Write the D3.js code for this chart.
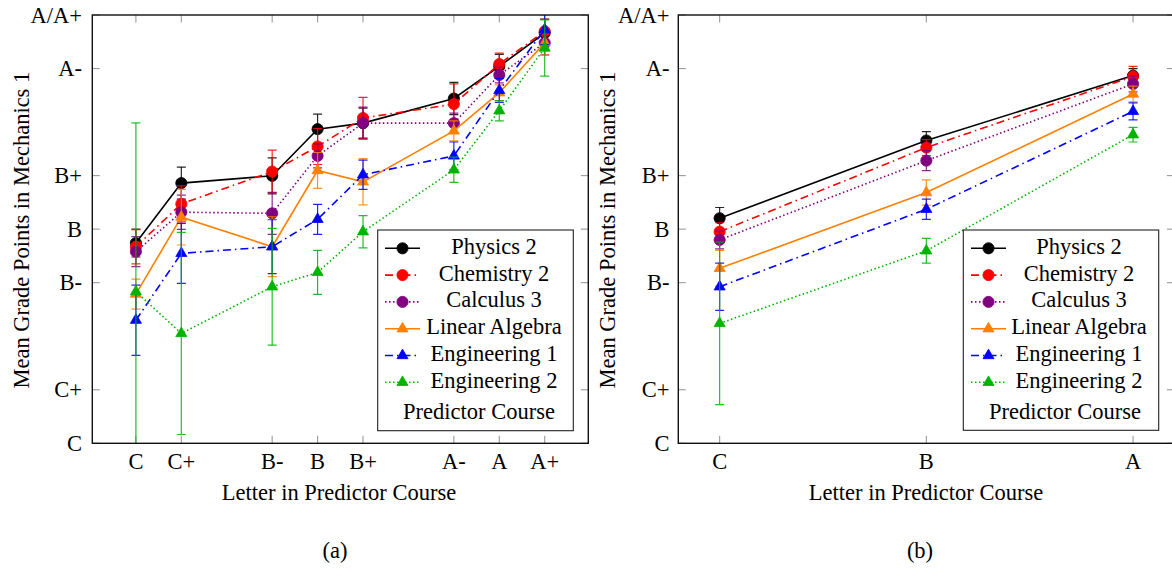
<!DOCTYPE html>
<html>
<head>
<meta charset="utf-8">
<script src="https://cdn.jsdelivr.net/npm/d3@7"></script>
<style>
  html, body { margin: 0; padding: 0; background: #fff; }
  svg { display: block; }
</style>
</head>
<body>
<svg id="chart" width="1172" height="569"></svg>
<script>
// ---------- data ----------
const gradeTicks = [2.0, 2.25, 2.75, 3.0, 3.25, 3.75, 4.0];
const gradeLabels = ["C", "C+", "B-", "B", "B+", "A-", "A/A+"];

const catsA = ["C", "C+", "B-", "B", "B+", "A-", "A", "A+"];
const catsAValues = [2.0, 2.25, 2.75, 3.0, 3.25, 3.75, 4.0, 4.25];
const catsB = ["C", "B", "A"];
const catsBValues = [2.0, 3.0, 4.0];

const seriesNames = ["Physics 2", "Chemistry 2", "Calculus 3", "Linear Algebra", "Engineering 1", "Engineering 2"];
const seriesColors = ["#000000", "#ff0000", "#800080", "#ff8000", "#0000ff", "#00b300"];
const seriesDash = [null, "8,4,1.5,4", "1.5,2.5", null, "8,4,1.5,4", "1.5,2.5"];
const seriesMarker = ["circle", "circle", "circle", "triangle", "triangle", "triangle"];

// panel (a): mean grade points per predictor letter
const physicsA     = [2.935, 3.215, 3.249, 3.467, 3.495, 3.610, 3.760, 3.916];
const physicsAErr  = [0.065, 0.075, 0.084, 0.070, 0.070, 0.075, 0.056, 0.065];
const chemistryA   = [2.918, 3.118, 3.269, 3.386, 3.519, 3.584, 3.771, 3.924];
const chemistryAErr= [0.080, 0.084, 0.100, 0.084, 0.096, 0.094, 0.051, 0.056];
const calculusA    = [2.895, 3.079, 3.074, 3.342, 3.495, 3.495, 3.720, 3.870];
const calculusAErr = [0.070, 0.080, 0.098, 0.056, 0.075, 0.047, 0.037, 0.056];
const linearA      = [2.697, 3.056, 2.918, 3.274, 3.221, 3.459, 3.637, 3.870];
const linearAErr   = [0.070, 0.130, 0.140, 0.084, 0.108, 0.047, 0.037, 0.056];
const eng1A        = [2.575, 2.887, 2.918, 3.046, 3.254, 3.342, 3.648, 3.932];
const eng1AErr     = [0.164, 0.140, 0.126, 0.070, 0.068, 0.065, 0.056, 0.070];
const eng2A        = [2.708, 2.513, 2.731, 2.798, 2.988, 3.277, 3.553, 3.846];
const eng2AErr     = [0.788, 0.472, 0.273, 0.103, 0.075, 0.059, 0.047, 0.131];

// panel (b)
const physicsB     = [3.051, 3.414, 3.717];
const physicsBErr  = [0.050, 0.041, 0.033];
const chemistryB   = [2.988, 3.381, 3.713];
const chemistryBErr= [0.042, 0.037, 0.047];
const calculusB    = [2.950, 3.320, 3.678];
const calculusBErr = [0.042, 0.047, 0.037];
const linearB      = [2.817, 3.171, 3.631];
const linearBErr   = [0.084, 0.059, 0.037];
const eng1B        = [2.731, 3.093, 3.550];
const eng1BErr     = [0.110, 0.047, 0.040];
const eng2B        = [2.560, 2.899, 3.441];
const eng2BErr     = [0.379, 0.058, 0.034];

const xTitle = "Letter in Predictor Course";
const yTitle = "Mean Grade Points in Mechanics 1";
const legendExtra = "Predictor Course";

// ---------- drawing ----------
const svg = d3.select("#chart");
const FS = 22.5;
const FONT = "'Liberation Serif', Tinos, 'Times New Roman', 'DejaVu Serif', serif";

function txt(g, x, y, s, anchor) {
  return g.append("text").attr("x", x).attr("y", y).attr("text-anchor", anchor || "middle")
    .attr("font-family", FONT).attr("font-size", FS).attr("fill", "#000").text(s);
}

function triPath(r) {
  const h = r * Math.sqrt(3) / 2;
  return `M0,${-r}L${h},${r/2}L${-h},${r/2}Z`;
}
function drawMarker(g, type, color, x, y) {
  if (type === "circle") {
    g.append("circle").attr("cx", x).attr("cy", y).attr("r", 5.6)
      .attr("fill", color).attr("stroke", color).attr("stroke-width", 0.8);
  } else {
    g.append("path").attr("d", triPath(6.4)).attr("transform", `translate(${x},${y})`)
      .attr("fill", color).attr("stroke", color).attr("stroke-width", 0.8);
  }
}

function drawPanel(cfg) {
  const { id, left, right, top, bottom, xDomain, cats, catVals, series, caption, legend, yLabelX, yTickX } = cfg;
  const x = d3.scaleLinear().domain(xDomain).range([left, right]);
  const y = d3.scaleLinear().domain([2, 4]).range([bottom, top]);
  const g = svg.append("g");

  const clipId = "clip-" + id;
  svg.append("clipPath").attr("id", clipId).append("rect")
    .attr("x", left).attr("y", top).attr("width", right - left).attr("height", bottom - top);

  // ticks (inside, mirrored)
  const tl = 7.5;
  const tickG = g.append("g").attr("stroke", "#9a9a9a").attr("stroke-width", 1.1);
  catVals.forEach(v => {
    tickG.append("line").attr("x1", x(v)).attr("x2", x(v)).attr("y1", bottom).attr("y2", bottom - tl);
    tickG.append("line").attr("x1", x(v)).attr("x2", x(v)).attr("y1", top).attr("y2", top + tl);
  });
  gradeTicks.forEach(v => {
    tickG.append("line").attr("x1", left).attr("x2", left + tl).attr("y1", y(v)).attr("y2", y(v));
    tickG.append("line").attr("x1", right).attr("x2", right - tl).attr("y1", y(v)).attr("y2", y(v));
  });

  // series
  const plotG = g.append("g").attr("clip-path", `url(#${clipId})`);
  series.forEach((s, i) => {
    const color = seriesColors[i];
    const pts = catVals.map((cv, k) => ({ x: cv, y: s.vals[k], e: s.err[k] }));
    const sg = plotG.append("g");
    pts.forEach(p => {
      const px = x(p.x), y1 = y(p.y - p.e), y2 = y(p.y + p.e);
      sg.append("line").attr("x1", px).attr("x2", px).attr("y1", y1).attr("y2", y2)
        .attr("stroke", color).attr("stroke-width", 1.2).attr("stroke-opacity", 0.85);
      [y1, y2].forEach(yy => sg.append("line").attr("x1", px - 4.5).attr("x2", px + 4.5)
        .attr("y1", yy).attr("y2", yy).attr("stroke", color).attr("stroke-width", 1.2).attr("stroke-opacity", 0.85));
    });
    const line = d3.line().x(d => x(d.x)).y(d => y(d.y));
    sg.append("path").attr("d", line(pts)).attr("fill", "none").attr("stroke", color)
      .attr("stroke-width", 1.6).attr("stroke-dasharray", seriesDash[i]);
    pts.forEach(p => drawMarker(sg, seriesMarker[i], color, x(p.x), y(p.y)));
  });

  // frame
  g.append("rect").attr("x", left).attr("y", top).attr("width", right - left).attr("height", bottom - top)
    .attr("fill", "none").attr("stroke", "#111").attr("stroke-width", 1.4);

  // tick labels
  cats.forEach((c, k) => txt(g, x(catVals[k]), bottom + 26, c));
  gradeTicks.forEach((v, k) => txt(g, yTickX, y(v) + 7.5, gradeLabels[k], "end"));

  // axis titles
  txt(g, cfg.xTitleX, bottom + 57, xTitle);
  g.append("text").attr("transform", `translate(${yLabelX},${(top + bottom) / 2 + 1}) rotate(-90)`)
    .attr("text-anchor", "middle").attr("font-family", FONT).attr("font-size", FS).attr("fill", "#000").text(yTitle);

  // caption
  txt(g, cfg.captionX, 558, caption);

  // legend
  const L = legend;
  const lg = g.append("g");
  lg.append("rect").attr("x", L.x0).attr("y", L.y0).attr("width", L.x1 - L.x0).attr("height", L.y1 - L.y0)
    .attr("fill", "#fff").attr("stroke", "#222").attr("stroke-width", 1.1);
  const rowH = 26.8, firstRow = L.y0 + 18.3;
  seriesNames.forEach((name, i) => {
    const ry = firstRow + i * rowH;
    const color = seriesColors[i];
    lg.append("line").attr("x1", L.lineX0).attr("x2", L.lineX0 + 35).attr("y1", ry).attr("y2", ry)
      .attr("stroke", color).attr("stroke-width", 1.6).attr("stroke-dasharray", seriesDash[i]);
    drawMarker(lg, seriesMarker[i], color, L.lineX0 + 17.5, ry);
    txt(lg, L.textX, ry + 5.5, name);
  });
  txt(lg, L.extraX, L.y0 + 189, legendExtra);
}

drawPanel({
  id: "a", left: 92.3, right: 588.3, top: 15, bottom: 443.3,
  xDomain: [1.76, 4.49], cats: catsA, catVals: catsAValues,
  series: [
    { vals: physicsA, err: physicsAErr }, { vals: chemistryA, err: chemistryAErr },
    { vals: calculusA, err: calculusAErr }, { vals: linearA, err: linearAErr },
    { vals: eng1A, err: eng1AErr }, { vals: eng2A, err: eng2AErr }
  ],
  caption: "(a)", captionX: 335, xTitleX: 339, yLabelX: 28.5, yTickX: 82,
  legend: { x0: 377.7, x1: 573.3, y0: 230, y1: 430.7, lineX0: 385, textX: 494, extraX: 479 }
});

drawPanel({
  id: "b", left: 678.3, right: 1174.4, top: 15, bottom: 443.3,
  xDomain: [1.8, 4.2], cats: catsB, catVals: catsBValues,
  series: [
    { vals: physicsB, err: physicsBErr }, { vals: chemistryB, err: chemistryBErr },
    { vals: calculusB, err: calculusBErr }, { vals: linearB, err: linearBErr },
    { vals: eng1B, err: eng1BErr }, { vals: eng2B, err: eng2BErr }
  ],
  caption: "(b)", captionX: 920, xTitleX: 926, yLabelX: 615, yTickX: 669.5,
  legend: { x0: 963.3, x1: 1158.7, y0: 230, y1: 430.3, lineX0: 971, textX: 1079, extraX: 1065 }
});
</script>
</body>
</html>
